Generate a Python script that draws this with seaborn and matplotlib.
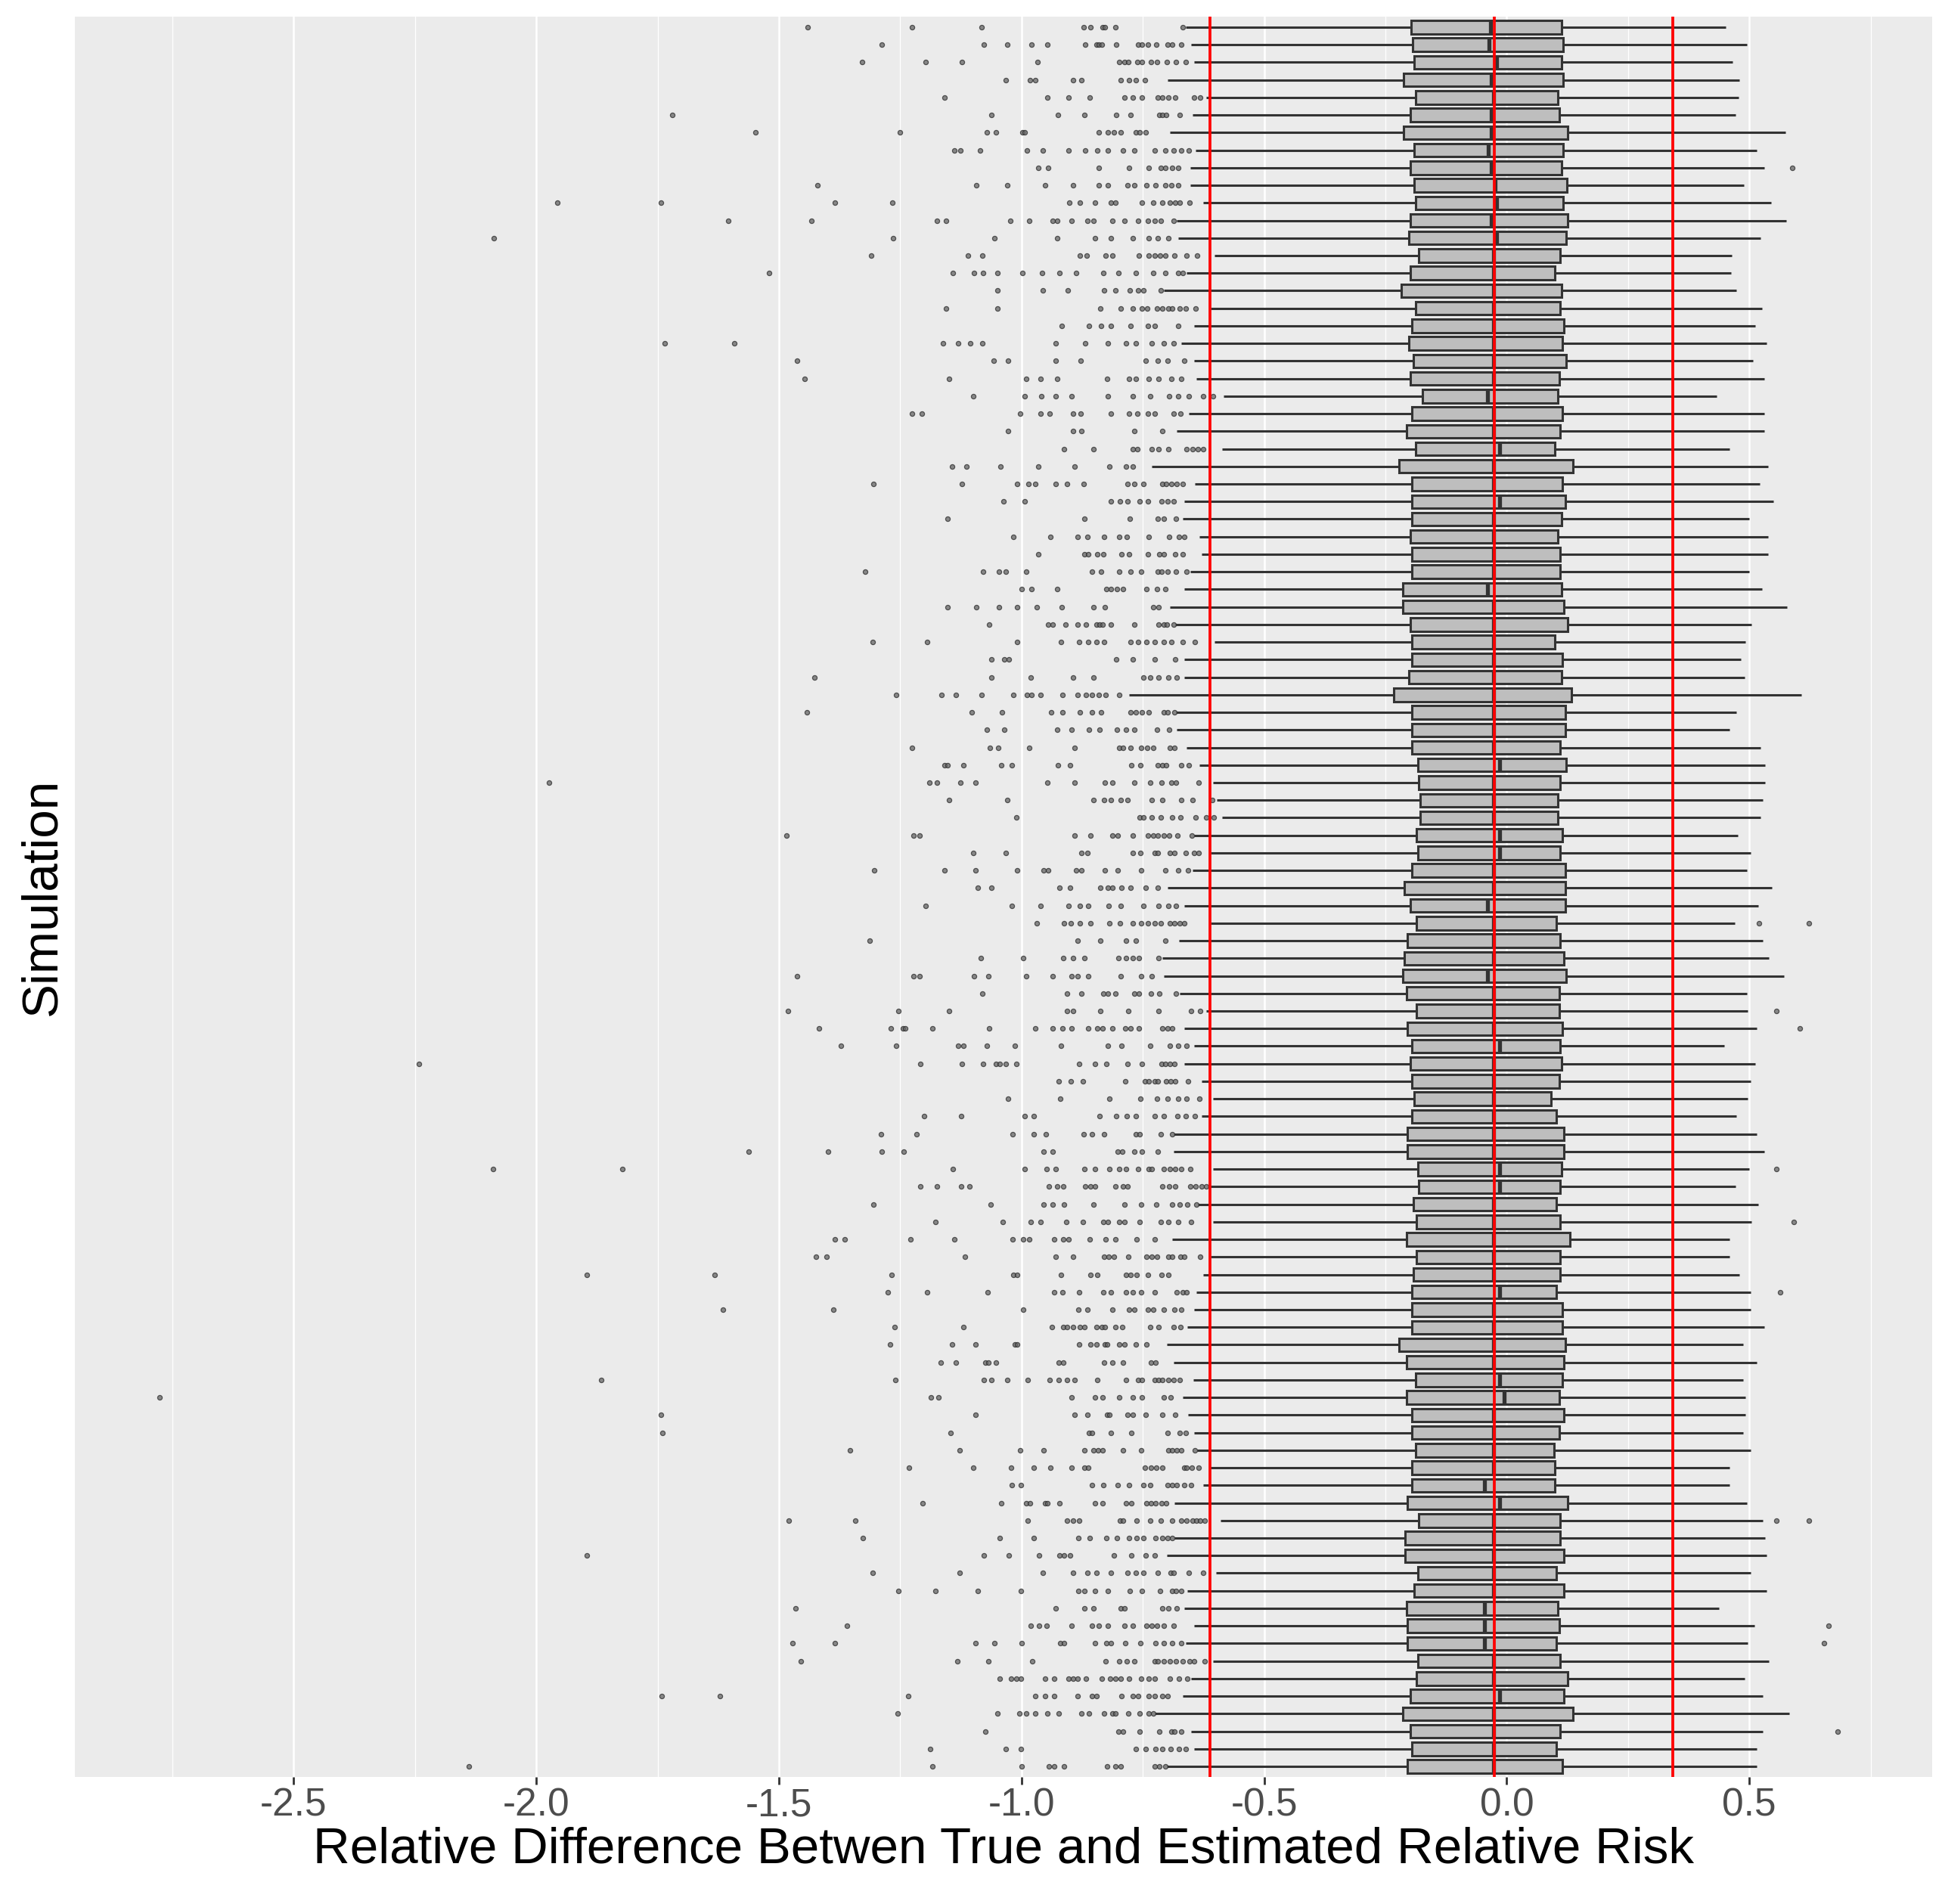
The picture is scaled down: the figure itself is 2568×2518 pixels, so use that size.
import numpy as np
import pandas as pd
import matplotlib

matplotlib.use("Agg")
import matplotlib.pyplot as plt
from matplotlib.ticker import MultipleLocator, FormatStrFormatter
import seaborn as sns

# ---- values (one entry per simulation, top to bottom) ----
q1 = [
    -0.197, -0.194, -0.190, -0.212, -0.188, -0.199, -0.213, -0.190, -0.198, -0.191,
    -0.188, -0.198, -0.202, -0.181, -0.199, -0.217, -0.188, -0.196, -0.201, -0.193,
    -0.199, -0.173, -0.196, -0.206, -0.188, -0.222, -0.196, -0.196, -0.196, -0.199,
    -0.196, -0.196, -0.214, -0.214, -0.199, -0.196, -0.196, -0.201, -0.232, -0.196,
    -0.196, -0.196, -0.183, -0.181, -0.178, -0.178, -0.186, -0.183, -0.196, -0.211,
    -0.199, -0.186, -0.204, -0.211, -0.214, -0.206, -0.186, -0.204, -0.196, -0.199,
    -0.196, -0.191, -0.196, -0.204, -0.204, -0.183, -0.181, -0.193, -0.186, -0.206,
    -0.186, -0.193, -0.196, -0.196, -0.196, -0.222, -0.206, -0.188, -0.206, -0.196,
    -0.196, -0.188, -0.196, -0.196, -0.204, -0.181, -0.209, -0.209, -0.183, -0.191,
    -0.206, -0.204, -0.204, -0.183, -0.186, -0.199, -0.214, -0.199, -0.196, -0.204,
]
median = [
    -0.033, -0.036, -0.020, -0.031, -0.027, -0.031, -0.031, -0.038, -0.031, -0.024,
    -0.020, -0.031, -0.021, -0.027, -0.027, -0.027, -0.027, -0.027, -0.027, -0.027,
    -0.027, -0.040, -0.027, -0.027, -0.015, -0.027, -0.027, -0.015, -0.027, -0.027,
    -0.027, -0.027, -0.040, -0.027, -0.027, -0.027, -0.027, -0.027, -0.027, -0.027,
    -0.027, -0.027, -0.015, -0.027, -0.027, -0.027, -0.015, -0.015, -0.027, -0.027,
    -0.040, -0.027, -0.027, -0.027, -0.040, -0.027, -0.027, -0.027, -0.015, -0.027,
    -0.027, -0.027, -0.027, -0.027, -0.027, -0.015, -0.015, -0.027, -0.027, -0.027,
    -0.027, -0.027, -0.015, -0.027, -0.027, -0.027, -0.027, -0.015, -0.005, -0.027,
    -0.027, -0.027, -0.027, -0.045, -0.015, -0.027, -0.027, -0.027, -0.027, -0.027,
    -0.045, -0.045, -0.045, -0.027, -0.027, -0.015, -0.027, -0.027, -0.027, -0.027,
]
q3 = [
    0.113, 0.117, 0.113, 0.117, 0.106, 0.109, 0.126, 0.117, 0.113, 0.124,
    0.116, 0.126, 0.122, 0.110, 0.100, 0.113, 0.110, 0.118, 0.115, 0.123,
    0.108, 0.105, 0.115, 0.110, 0.100, 0.136, 0.115, 0.121, 0.113, 0.105,
    0.110, 0.110, 0.113, 0.118, 0.126, 0.100, 0.115, 0.113, 0.133, 0.121,
    0.121, 0.110, 0.123, 0.110, 0.105, 0.105, 0.115, 0.110, 0.121, 0.121,
    0.121, 0.103, 0.110, 0.118, 0.123, 0.108, 0.108, 0.115, 0.110, 0.113,
    0.108, 0.092, 0.103, 0.118, 0.118, 0.113, 0.110, 0.103, 0.110, 0.131,
    0.110, 0.110, 0.103, 0.115, 0.115, 0.121, 0.118, 0.115, 0.108, 0.118,
    0.108, 0.097, 0.100, 0.100, 0.126, 0.110, 0.110, 0.118, 0.103, 0.118,
    0.105, 0.108, 0.103, 0.110, 0.126, 0.118, 0.136, 0.110, 0.103, 0.115,
]
whisker_hi = [
    0.451, 0.495, 0.465, 0.479, 0.478, 0.472, 0.574, 0.515, 0.531, 0.489,
    0.545, 0.576, 0.523, 0.464, 0.462, 0.474, 0.526, 0.513, 0.536, 0.508,
    0.531, 0.433, 0.531, 0.531, 0.459, 0.538, 0.521, 0.549, 0.500, 0.538,
    0.538, 0.500, 0.526, 0.577, 0.505, 0.492, 0.482, 0.490, 0.608, 0.474,
    0.459, 0.523, 0.533, 0.533, 0.528, 0.523, 0.477, 0.503, 0.495, 0.546,
    0.518, 0.470, 0.528, 0.541, 0.572, 0.495, 0.497, 0.515, 0.449, 0.513,
    0.503, 0.497, 0.474, 0.515, 0.531, 0.500, 0.472, 0.518, 0.505, 0.459,
    0.459, 0.479, 0.503, 0.503, 0.531, 0.487, 0.515, 0.487, 0.492, 0.492,
    0.487, 0.503, 0.459, 0.459, 0.495, 0.528, 0.533, 0.536, 0.503, 0.536,
    0.438, 0.510, 0.497, 0.541, 0.490, 0.528, 0.582, 0.528, 0.515, 0.515,
]
whisker_lo = [
    -0.662, -0.651, -0.644, -0.699, -0.619, -0.648, -0.694, -0.641, -0.652, -0.652,
    -0.626, -0.680, -0.677, -0.602, -0.660, -0.706, -0.610, -0.645, -0.671, -0.644,
    -0.639, -0.583, -0.655, -0.680, -0.586, -0.732, -0.642, -0.665, -0.667, -0.634,
    -0.629, -0.652, -0.664, -0.694, -0.683, -0.602, -0.664, -0.664, -0.778, -0.681,
    -0.680, -0.660, -0.634, -0.606, -0.597, -0.586, -0.645, -0.610, -0.648, -0.699,
    -0.664, -0.610, -0.675, -0.710, -0.707, -0.674, -0.619, -0.664, -0.644, -0.664,
    -0.629, -0.605, -0.629, -0.687, -0.686, -0.605, -0.616, -0.636, -0.605, -0.689,
    -0.610, -0.625, -0.639, -0.644, -0.658, -0.700, -0.687, -0.646, -0.667, -0.657,
    -0.645, -0.638, -0.612, -0.625, -0.684, -0.590, -0.684, -0.700, -0.599, -0.658,
    -0.665, -0.645, -0.662, -0.605, -0.651, -0.668, -0.725, -0.651, -0.644, -0.700,
]

low_outliers = [
    [-1.44, -1.226, -1.082, -0.872, -0.857, -0.833, -0.828, -0.806, -0.668],
    [-1.288, -1.077, -1.029, -0.98, -0.946, -0.868, -0.846, -0.841, -0.835, -0.804, -0.759, -0.751, -0.739, -0.722, -0.699, -0.69, -0.671],
    [-1.329, -1.198, -1.123, -0.967, -0.799, -0.788, -0.78, -0.761, -0.752, -0.733, -0.72, -0.7, -0.681, -0.661],
    [-1.032, -0.982, -0.972, -0.893, -0.877, -0.796, -0.778, -0.765, -0.745],
    [-1.159, -0.946, -0.903, -0.859, -0.788, -0.771, -0.751, -0.719, -0.709, -0.697, -0.683, -0.644, -0.631],
    [-1.72, -1.062, -0.925, -0.871, -0.804, -0.775, -0.716, -0.709, -0.702, -0.674],
    [-1.549, -1.25, -1.072, -1.052, -0.998, -0.993, -0.841, -0.822, -0.81, -0.796, -0.765, -0.757, -0.744],
    [-1.139, -1.126, -1.085, -0.988, -0.956, -0.903, -0.868, -0.843, -0.822, -0.79, -0.768, -0.726, -0.704, -0.686, -0.67, -0.655],
    [-0.965, -0.945, -0.841, -0.778, -0.738, -0.713, -0.704, -0.689, -0.677],
    [-1.421, -1.093, -1.029, -0.952, -0.894, -0.841, -0.822, -0.781, -0.767, -0.742, -0.723, -0.704, -0.691, -0.677],
    [-1.957, -1.743, -1.384, -1.266, -0.901, -0.88, -0.848, -0.816, -0.807, -0.752, -0.729, -0.709, -0.694, -0.683, -0.674, -0.654],
    [-1.604, -1.433, -1.174, -1.156, -1.023, -0.984, -0.935, -0.926, -0.897, -0.864, -0.851, -0.812, -0.788, -0.759, -0.739, -0.726, -0.713, -0.686],
    [-2.087, -1.265, -1.056, -0.927, -0.848, -0.815, -0.771, -0.738, -0.719, -0.697],
    [-1.31, -1.11, -1.08, -0.88, -0.865, -0.826, -0.812, -0.758, -0.738, -0.726, -0.715, -0.704, -0.684, -0.66, -0.638],
    [-1.52, -1.142, -1.098, -1.079, -1.05, -0.998, -0.958, -0.922, -0.887, -0.832, -0.8, -0.765, -0.728, -0.704, -0.677, -0.667],
    [-1.049, -0.956, -0.904, -0.829, -0.806, -0.777, -0.759, -0.749, -0.713],
    [-1.156, -1.049, -0.838, -0.796, -0.77, -0.752, -0.741, -0.72, -0.709, -0.697, -0.689, -0.674, -0.662, -0.641],
    [-0.917, -0.861, -0.836, -0.816, -0.775, -0.739, -0.726, -0.677],
    [-1.735, -1.592, -1.162, -1.13, -1.106, -1.081, -0.929, -0.868, -0.822, -0.784, -0.764, -0.731, -0.707, -0.687],
    [-1.463, -1.058, -1.027, -0.93, -0.878, -0.744, -0.719, -0.699, -0.664],
    [-1.447, -1.149, -0.99, -0.961, -0.926, -0.823, -0.778, -0.764, -0.738, -0.717, -0.691, -0.671],
    [-1.1, -0.993, -0.959, -0.929, -0.896, -0.822, -0.77, -0.735, -0.696, -0.677, -0.655, -0.626, -0.605],
    [-1.226, -1.205, -1.003, -0.961, -0.942, -0.894, -0.878, -0.815, -0.778, -0.761, -0.739, -0.725, -0.687, -0.673],
    [-1.027, -0.894, -0.877, -0.767, -0.709],
    [-0.913, -0.851, -0.771, -0.761, -0.732, -0.717, -0.697, -0.66, -0.648, -0.636, -0.625],
    [-1.143, -1.113, -1.043, -0.965, -0.89, -0.819, -0.784, -0.771],
    [-1.305, -1.123, -1.009, -0.985, -0.971, -0.929, -0.906, -0.872, -0.781, -0.767, -0.749, -0.71, -0.702, -0.691, -0.68, -0.667],
    [-1.037, -0.994, -0.816, -0.797, -0.781, -0.757, -0.739, -0.712, -0.699, -0.687],
    [-1.153, -0.871, -0.777, -0.719, -0.706, -0.681],
    [-1.017, -0.94, -0.885, -0.864, -0.83, -0.799, -0.783, -0.738, -0.696, -0.675, -0.665],
    [-0.965, -0.871, -0.862, -0.843, -0.832, -0.794, -0.778, -0.739, -0.716, -0.706, -0.683, -0.668],
    [-1.323, -1.079, -1.046, -1.032, -0.99, -0.854, -0.836, -0.799, -0.775, -0.754, -0.719, -0.712, -0.699, -0.681, -0.66],
    [-1.0, -0.98, -0.926, -0.825, -0.815, -0.803, -0.791, -0.742, -0.72, -0.704],
    [-1.152, -1.093, -1.046, -1.009, -0.969, -0.917, -0.852, -0.828, -0.728, -0.717],
    [-1.066, -0.945, -0.935, -0.909, -0.884, -0.867, -0.846, -0.839, -0.833, -0.816, -0.768, -0.717, -0.707, -0.7, -0.687],
    [-1.307, -1.194, -1.009, -0.919, -0.881, -0.862, -0.846, -0.83, -0.775, -0.759, -0.742, -0.726, -0.706, -0.691, -0.668, -0.642],
    [-1.062, -1.036, -1.026, -0.804, -0.771, -0.726, -0.683],
    [-1.426, -1.062, -0.981, -0.893, -0.851, -0.749, -0.735, -0.717, -0.697, -0.68],
    [-1.258, -1.165, -1.135, -1.082, -1.017, -0.988, -0.98, -0.961, -0.916, -0.884, -0.867, -0.854, -0.841, -0.826, -0.799],
    [-1.443, -1.103, -1.04, -0.939, -0.916, -0.88, -0.855, -0.836, -0.775, -0.764, -0.752, -0.738, -0.706, -0.699, -0.684],
    [-1.071, -1.036, -0.926, -0.897, -0.861, -0.839, -0.803, -0.784, -0.768, -0.72, -0.696],
    [-1.226, -1.065, -1.048, -0.984, -0.89, -0.799, -0.79, -0.775, -0.754, -0.741, -0.729, -0.694, -0.684],
    [-1.159, -1.153, -1.119, -1.042, -1.02, -0.925, -0.9, -0.773, -0.755, -0.719, -0.71, -0.702, -0.67, -0.655],
    [-1.973, -1.19, -1.174, -1.126, -1.095, -0.946, -0.89, -0.828, -0.812, -0.767, -0.735, -0.712, -0.691, -0.681, -0.635],
    [-1.149, -1.029, -0.852, -0.829, -0.816, -0.796, -0.781, -0.731, -0.71, -0.671, -0.647, -0.607],
    [-1.011, -0.757, -0.749, -0.732, -0.713, -0.69, -0.673, -0.641, -0.619, -0.603],
    [-1.484, -1.223, -1.21, -0.89, -0.858, -0.813, -0.802, -0.771, -0.739, -0.729, -0.719, -0.706, -0.696, -0.678, -0.649],
    [-1.1, -1.032, -0.877, -0.864, -0.77, -0.755, -0.726, -0.719, -0.694, -0.684, -0.662, -0.644, -0.635],
    [-1.304, -1.159, -1.094, -1.009, -0.954, -0.945, -0.888, -0.877, -0.828, -0.802, -0.754, -0.704, -0.677, -0.657],
    [-1.09, -1.062, -0.922, -0.9, -0.838, -0.822, -0.812, -0.794, -0.775, -0.744, -0.719],
    [-1.198, -1.02, -0.961, -0.903, -0.88, -0.862, -0.82, -0.796, -0.748, -0.717, -0.697, -0.681],
    [-0.968, -0.913, -0.898, -0.88, -0.858, -0.819, -0.797, -0.77, -0.754, -0.739, -0.725, -0.713, -0.694, -0.684, -0.674, -0.665],
    [-1.313, -0.885, -0.838, -0.784, -0.764, -0.704],
    [-1.084, -0.997, -0.914, -0.893, -0.871, -0.8, -0.784, -0.77, -0.758, -0.717],
    [-1.462, -1.223, -1.21, -1.098, -1.068, -0.991, -0.935, -0.897, -0.884, -0.862, -0.796, -0.754, -0.731],
    [-1.081, -0.906, -0.877, -0.832, -0.822, -0.807, -0.767, -0.758, -0.733, -0.716, -0.681],
    [-1.481, -1.253, -1.15, -0.906, -0.894, -0.838, -0.78, -0.717, -0.651, -0.631],
    [-1.417, -1.269, -1.245, -1.24, -1.184, -1.066, -0.971, -0.936, -0.916, -0.897, -0.862, -0.843, -0.833, -0.812, -0.786, -0.775, -0.758, -0.71, -0.699, -0.689],
    [-1.372, -1.259, -1.13, -1.119, -1.072, -1.014, -0.919, -0.822, -0.794, -0.735, -0.694, -0.677, -0.66],
    [-2.242, -1.208, -1.123, -1.079, -1.053, -1.045, -1.032, -1.011, -0.881, -0.848, -0.825, -0.781, -0.752, -0.712, -0.703, -0.694, -0.684],
    [-0.923, -0.898, -0.874, -0.786, -0.746, -0.738, -0.726, -0.719, -0.702, -0.693, -0.683, -0.657],
    [-1.027, -0.92, -0.819, -0.755, -0.72, -0.699, -0.677, -0.66, -0.634],
    [-1.2, -1.124, -0.994, -0.974, -0.839, -0.804, -0.783, -0.765, -0.726, -0.706, -0.678, -0.662, -0.642],
    [-1.289, -1.217, -1.019, -0.975, -0.949, -0.872, -0.855, -0.83, -0.764, -0.757, -0.713, -0.69],
    [-1.563, -1.398, -1.288, -1.243, -0.954, -0.935, -0.801, -0.793, -0.767, -0.751, -0.719],
    [-2.089, -1.822, -1.142, -0.994, -0.948, -0.929, -0.871, -0.848, -0.819, -0.799, -0.784, -0.759, -0.738, -0.732, -0.706, -0.694, -0.683, -0.671, -0.652],
    [-1.208, -1.174, -1.124, -1.107, -0.943, -0.927, -0.914, -0.868, -0.858, -0.848, -0.807, -0.79, -0.781, -0.71, -0.696, -0.683, -0.652, -0.641, -0.629, -0.619],
    [-1.305, -1.064, -0.954, -0.935, -0.913, -0.851, -0.788, -0.754, -0.722, -0.689, -0.674, -0.658, -0.639],
    [-1.178, -1.039, -0.981, -0.961, -0.907, -0.874, -0.832, -0.822, -0.799, -0.788, -0.757, -0.713, -0.697, -0.677, -0.651],
    [-1.385, -1.365, -1.229, -1.139, -1.019, -0.997, -0.984, -0.932, -0.914, -0.903, -0.859, -0.826, -0.806, -0.762, -0.725],
    [-1.424, -1.402, -1.117, -0.929, -0.894, -0.83, -0.82, -0.81, -0.78, -0.742, -0.732, -0.72, -0.697, -0.69, -0.673, -0.664, -0.632],
    [-1.896, -1.633, -1.268, -1.016, -1.009, -0.919, -0.858, -0.843, -0.784, -0.775, -0.762, -0.739, -0.712, -0.697],
    [-1.275, -1.195, -1.069, -0.933, -0.916, -0.881, -0.832, -0.816, -0.784, -0.771, -0.754, -0.725, -0.68, -0.667, -0.66],
    [-1.615, -1.388, -0.997, -0.883, -0.864, -0.813, -0.778, -0.767, -0.739, -0.728, -0.706, -0.684, -0.671],
    [-1.262, -1.12, -0.938, -0.914, -0.906, -0.893, -0.88, -0.871, -0.845, -0.835, -0.828, -0.807, -0.793, -0.735, -0.717, -0.686, -0.673],
    [-1.271, -1.143, -1.094, -1.013, -1.009, -0.881, -0.857, -0.845, -0.828, -0.823, -0.799, -0.788, -0.764, -0.742],
    [-1.166, -1.135, -1.075, -1.068, -1.053, -0.923, -0.914, -0.83, -0.812, -0.791, -0.733, -0.723],
    [-1.866, -1.26, -1.078, -1.062, -1.029, -0.987, -0.942, -0.923, -0.906, -0.891, -0.843, -0.784, -0.759, -0.752, -0.726, -0.717, -0.709, -0.697, -0.687, -0.674],
    [-2.777, -1.187, -1.171, -0.897, -0.849, -0.833, -0.799, -0.77, -0.752, -0.707, -0.693],
    [-1.743, -1.095, -0.89, -0.864, -0.823, -0.819, -0.781, -0.77, -0.744, -0.709, -0.683],
    [-1.74, -1.146, -0.861, -0.855, -0.815, -0.774, -0.699, -0.674, -0.662],
    [-1.353, -1.127, -1.003, -0.954, -0.871, -0.851, -0.842, -0.833, -0.791, -0.754, -0.697, -0.689, -0.68, -0.671, -0.642],
    [-1.232, -1.1, -1.022, -0.974, -0.94, -0.897, -0.871, -0.862, -0.745, -0.733, -0.722, -0.709, -0.665, -0.66, -0.649, -0.635],
    [-1.02, -1.001, -0.855, -0.832, -0.801, -0.778, -0.749, -0.735, -0.699, -0.689, -0.68, -0.665, -0.651],
    [-1.204, -1.042, -0.991, -0.982, -0.952, -0.946, -0.922, -0.849, -0.833, -0.784, -0.773, -0.742, -0.733, -0.723, -0.712, -0.702],
    [-1.479, -1.343, -0.987, -0.906, -0.894, -0.881, -0.797, -0.79, -0.762, -0.735, -0.713, -0.69, -0.67, -0.66, -0.648, -0.639, -0.631, -0.622],
    [-1.327, -1.045, -0.975, -0.883, -0.859, -0.825, -0.803, -0.778, -0.762, -0.749, -0.723, -0.709, -0.699, -0.689],
    [-1.896, -1.078, -1.026, -0.964, -0.922, -0.913, -0.9, -0.81, -0.774, -0.744, -0.725],
    [-1.307, -1.127, -0.956, -0.894, -0.864, -0.845, -0.816, -0.781, -0.764, -0.748, -0.719, -0.693, -0.686, -0.655, -0.625],
    [-1.253, -1.178, -1.09, -1.001, -0.883, -0.871, -0.849, -0.822, -0.777, -0.752, -0.715, -0.69, -0.681, -0.671],
    [-1.465, -0.93, -0.871, -0.851, -0.796, -0.787, -0.71, -0.697, -0.68],
    [-1.359, -0.981, -0.964, -0.948, -0.897, -0.855, -0.841, -0.822, -0.788, -0.771, -0.742, -0.731, -0.72, -0.706, -0.687],
    [-1.472, -1.385, -1.095, -1.056, -1.0, -0.92, -0.913, -0.848, -0.825, -0.815, -0.786, -0.755, -0.723, -0.706, -0.689, -0.671],
    [-1.455, -1.132, -1.068, -0.977, -0.826, -0.799, -0.783, -0.768, -0.726, -0.719, -0.707, -0.694, -0.681, -0.668, -0.654, -0.645, -0.623],
    [-1.045, -1.022, -1.01, -1.001, -0.952, -0.932, -0.903, -0.894, -0.884, -0.867, -0.835, -0.817, -0.807, -0.796, -0.778, -0.754, -0.738, -0.725, -0.694, -0.675, -0.658],
    [-1.741, -1.622, -1.234, -0.972, -0.951, -0.932, -0.884, -0.855, -0.846, -0.794, -0.77, -0.759, -0.738, -0.725, -0.71, -0.699],
    [-1.255, -1.049, -1.004, -0.991, -0.972, -0.946, -0.923, -0.877, -0.861, -0.83, -0.813, -0.807, -0.78, -0.757, -0.738, -0.728],
    [-1.074, -0.8, -0.79, -0.757, -0.716, -0.691, -0.684, -0.671],
    [-1.188, -1.032, -1.001, -0.764, -0.744, -0.723, -0.709, -0.693, -0.675, -0.661],
    [-2.139, -1.184, -1.0, -0.943, -0.933, -0.913, -0.823, -0.807, -0.796, -0.726, -0.716, -0.703],
]

# points beyond the right whisker, keyed by simulation index
high_outliers = {8: [0.589], 51: [0.52, 0.623], 56: [0.556], 57: [0.605], 65: [0.556],
                 68: [0.592], 72: [0.564], 85: [0.556, 0.623], 91: [0.664], 92: [0.654],
                 97: [0.682]}

ref_lines = [-0.611, -0.026, 0.342]

n_sim = len(q1)
sims = [f"sim{i + 1}" for i in range(n_sim)]

# Five numbers per simulation: with 5 points seaborn's quartiles land exactly
# on q1/median/q3 and whis=(0, 100) puts the whiskers on the extremes.
rows = []
for i, s in enumerate(sims):
    for v in (whisker_lo[i], q1[i], median[i], q3[i], whisker_hi[i]):
        rows.append((s, v))
box_df = pd.DataFrame(rows, columns=["sim", "value"])

pts = []
for i, s in enumerate(sims):
    for v in low_outliers[i] + high_outliers.get(i, []):
        pts.append((s, v))
out_df = pd.DataFrame(pts, columns=["sim", "value"])

# ---- style ------------------------------------------------------------------
sns.set_theme(style="darkgrid")
plt.rcParams["font.family"] = ["Liberation Sans", "DejaVu Sans"]
plt.rcParams["axes.unicode_minus"] = False

fig = plt.figure(figsize=(25.68, 25.18), dpi=100)
ax = fig.add_axes([99 / 2568, 168 / 2518, (2555 - 99) / 2568, (2350 - 22) / 2518])
ax.set_facecolor("#EBEBEB")

sns.boxplot(data=box_df, x="value", y="sim", order=sims, orient="h",
            whis=(0, 100), showfliers=False, width=0.75,
            color="#BEBEBE", saturation=1, linecolor="#333333", linewidth=2.2,
            medianprops=dict(linewidth=3.8), capprops=dict(linewidth=0), ax=ax)

sns.stripplot(data=out_df, x="value", y="sim", order=sims, orient="h",
              jitter=False, size=4.4, color="#666666", alpha=0.75,
              linewidth=0.9, edgecolor="#2A2A2A", ax=ax)

for xv in ref_lines:
    ax.axvline(xv, color="#FF0000", lw=2.7, zorder=5)

ax.set_xlim(-2.951, 0.877)
ax.set_ylim(n_sim - 0.4, -0.6)

ax.xaxis.set_major_locator(MultipleLocator(0.5))
ax.xaxis.set_minor_locator(MultipleLocator(0.25))
ax.xaxis.set_major_formatter(FormatStrFormatter("%.1f"))
ax.set_axisbelow(True)
ax.grid(False)
ax.grid(axis="x", which="major", color="white", lw=1.8)
ax.grid(axis="x", which="minor", color="white", lw=0.9)

ax.set_yticks([])
ax.tick_params(axis="x", which="major", length=7.2, width=2.0, color="#333333",
               labelsize=37, labelcolor="#4D4D4D", pad=2.5, bottom=True)
ax.tick_params(axis="x", which="minor", length=0)
for sp in ax.spines.values():
    sp.set_visible(False)

ax.set_xlabel("Relative Difference Betwen True and Estimated Relative Risk",
              fontsize=48.5, color="black", labelpad=2)
ax.set_ylabel("Simulation", fontsize=48.5, color="black", labelpad=8)

fig.savefig("out.png", dpi=100)
plt.close(fig)
